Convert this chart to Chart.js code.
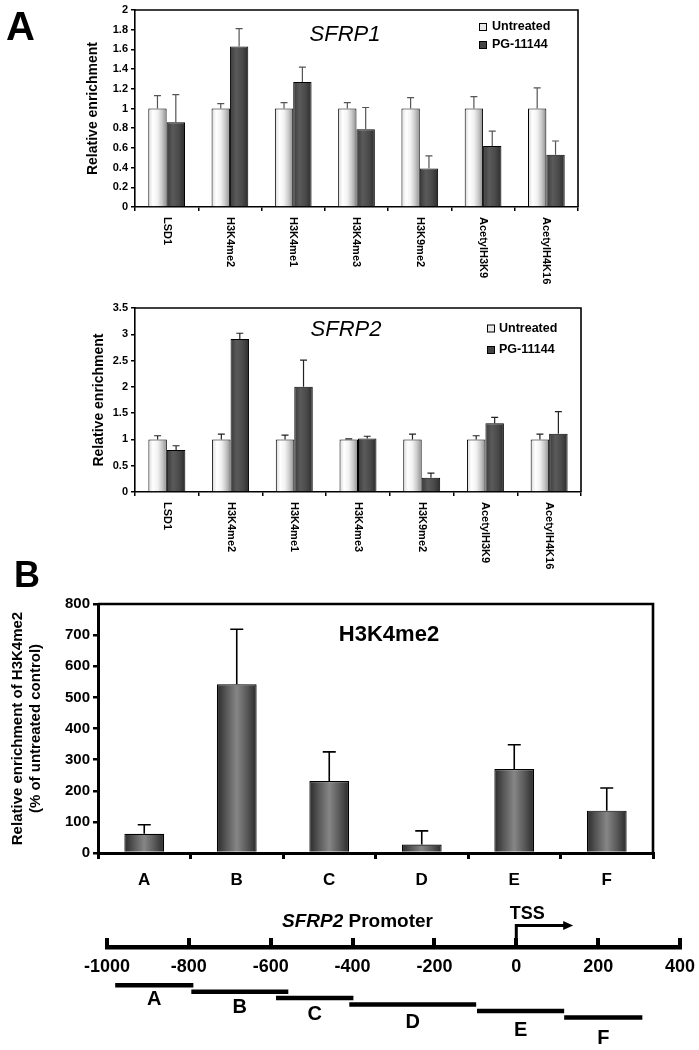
<!DOCTYPE html>
<html>
<head>
<meta charset="utf-8">
<script src="https://cdn.jsdelivr.net/npm/chart.js@4.4.1/dist/chart.umd.min.js"></script>
<style>
  html, body { margin: 0; padding: 0; background: #fff; }
  #page { position: relative; width: 699px; height: 1050px; overflow: hidden; font-family: "Liberation Sans", Arial, sans-serif; }
  canvas { position: absolute; left: 0; }
  .panel { position: absolute; font-weight: bold; line-height: 1; color: #000; }
</style>
</head>
<body>
<div id="page">
  <canvas id="sfrp1" width="699" height="295" style="top:0px"></canvas>
  <canvas id="sfrp2" width="699" height="275" style="top:295px"></canvas>
  <canvas id="h3k4" width="699" height="320" style="top:570px"></canvas>
  <canvas id="promoter" width="699" height="160" style="top:890px"></canvas>
  <div class="panel" style="left:6px; top:6px; font-size:40px">A</div>
  <div class="panel" style="left:14px; top:557px; font-size:36px">B</div>
</div>
<script>
const FONT = '"Liberation Sans", Arial, sans-serif';
Chart.defaults.font.family = FONT;
Chart.defaults.color = '#000';

// panel A data
const categories = ['LSD1', 'H3K4me2', 'H3K4me1', 'H3K4me3', 'H3K9me2', 'AcetylH3K9', 'AcetylH4K16'];
const seriesNames = ['Untreated', 'PG-11144'];

const sfrp1Untreated = [1, 1, 1, 1, 1, 1, 1];
const sfrp1UntreatedErr = [0.13, 0.05, 0.06, 0.06, 0.11, 0.12, 0.21];
const sfrp1Treated = [0.86, 1.63, 1.27, 0.79, 0.39, 0.62, 0.53];
const sfrp1TreatedErr = [0.28, 0.18, 0.15, 0.22, 0.13, 0.15, 0.14];
const sfrp1Ticks = [0, 0.2, 0.4, 0.6, 0.8, 1, 1.2, 1.4, 1.6, 1.8, 2];

const sfrp2Untreated = [1, 1, 1, 1, 1, 1, 1];
const sfrp2UntreatedErr = [0.07, 0.10, 0.08, 0.01, 0.10, 0.07, 0.10];
const sfrp2Treated = [0.80, 2.91, 2.00, 1.02, 0.27, 1.31, 1.11];
const sfrp2TreatedErr = [0.08, 0.11, 0.51, 0.04, 0.09, 0.11, 0.42];
const sfrp2Ticks = [0, 0.5, 1, 1.5, 2, 2.5, 3, 3.5];

// panel B data
const regions = ['A', 'B', 'C', 'D', 'E', 'F'];
const h3k4me2Values = [62, 542, 231, 27, 270, 136];
const h3k4me2Err = [29, 177, 94, 44, 78, 73];
const h3k4me2Ticks = [0, 100, 200, 300, 400, 500, 600, 700, 800];

// promoter map (bp relative to TSS)
const promoterTicks = [-1000, -800, -600, -400, -200, 0, 200, 400];
const ampliconStart = [-980, -794, -587, -408, -96, 117];
const ampliconEnd = [-789, -557, -398, -98, 117, 308];
const tssArrowEnd = 139;

// bar shading, done per bar once positions are known
const shadePlugin = {
  id: 'shade',
  beforeDatasetsDraw(chart) {
    const ctx = chart.ctx;
    chart.data.datasets.forEach((ds, di) => {
      if (!ds.shade) return;
      chart.getDatasetMeta(di).data.forEach(el => {
        const { x, width } = el.getProps(['x', 'width'], true);
        const g = ctx.createLinearGradient(x - width / 2, 0, x + width / 2, 0);
        ds.shade.forEach((c, k) => g.addColorStop(k / (ds.shade.length - 1), c));
        el.options.backgroundColor = g;
      });
    });
  }
};

const errorBarPlugin = {
  id: 'errorBars',
  afterDatasetsDraw(chart, args, opts) {
    const ctx = chart.ctx, ys = chart.scales.y;
    ctx.save();
    ctx.strokeStyle = opts.color;
    ctx.lineWidth = opts.width;
    chart.data.datasets.forEach((ds, di) => {
      if (!ds.errors) return;
      chart.getDatasetMeta(di).data.forEach((el, i) => {
        const top = ys.getPixelForValue(ds.data[i] + ds.errors[i]);
        ctx.beginPath();
        ctx.moveTo(el.x, el.y);
        ctx.lineTo(el.x, top);
        ctx.moveTo(el.x - opts.cap / 2, top);
        ctx.lineTo(el.x + opts.cap / 2, top);
        ctx.stroke();
      });
    });
    ctx.restore();
  }
};

// top and right edges of the plot box
const framePlugin = {
  id: 'frame',
  afterDatasetsDraw(chart, args, opts) {
    const { left, right, top, bottom } = chart.chartArea;
    const ctx = chart.ctx;
    ctx.save();
    ctx.strokeStyle = '#000';
    ctx.lineWidth = opts.width;
    ctx.beginPath();
    ctx.moveTo(left, top);
    ctx.lineTo(right, top);
    ctx.lineTo(right, bottom);
    ctx.stroke();
    ctx.restore();
  }
};

const decorPlugin = {
  id: 'decor',
  afterDraw(chart, args, opts) {
    const ctx = chart.ctx;
    ctx.save();
    ctx.fillStyle = '#000';
    if (opts.title) {
      ctx.font = opts.title.font;
      ctx.textAlign = 'center';
      ctx.textBaseline = 'middle';
      ctx.fillText(opts.title.text, opts.title.x, opts.title.y);
    }
    if (opts.legend) {
      const L = opts.legend;
      ctx.font = `bold 12.5px ${FONT}`;
      ctx.textAlign = 'left';
      ctx.textBaseline = 'middle';
      chart.data.datasets.forEach((ds, i) => {
        const cy = L.y + i * L.gap;
        ctx.fillStyle = ds.legendColor;
        ctx.fillRect(L.x, cy - L.box / 2, L.box, L.box);
        ctx.strokeStyle = '#000';
        ctx.lineWidth = 1;
        ctx.strokeRect(L.x + 0.5, cy - L.box / 2 + 0.5, L.box - 1, L.box - 1);
        ctx.fillStyle = '#000';
        ctx.fillText(ds.label, L.x + L.textGap, cy);
      });
    }
    if (opts.rotatedLabels) {
      const xs = chart.scales.x;
      ctx.font = `bold 11px ${FONT}`;
      ctx.textAlign = 'left';
      ctx.textBaseline = 'middle';
      chart.data.labels.forEach((lab, i) => {
        ctx.save();
        ctx.translate(xs.getPixelForValue(i), chart.chartArea.bottom + opts.rotatedLabels.gap);
        ctx.rotate(Math.PI / 2);
        ctx.fillText(lab, 0, 0);
        ctx.restore();
      });
    }
    ctx.restore();
  }
};

function enrichmentChart(id, gene, untreated, untreatedErr, treated, treatedErr, ticks, box) {
  return new Chart(document.getElementById(id), {
    type: 'bar',
    data: {
      labels: categories,
      datasets: [
        {
          label: seriesNames[0],
          data: untreated,
          errors: untreatedErr,
          shade: ['#d8d8d8', '#ffffff', '#f2f2f2', '#c8c8c8', '#8c8c8c'],
          legendColor: '#e8e8e8',
          backgroundColor: () => '#e0e0e0',
          borderColor: '#000',
          borderWidth: 1,
          categoryPercentage: 0.58,
          barPercentage: 1
        },
        {
          label: seriesNames[1],
          data: treated,
          errors: treatedErr,
          shade: ['#3a3a3a', '#5a5a5a', '#4a4a4a', '#2c2c2c'],
          legendColor: '#444',
          backgroundColor: () => '#444',
          borderColor: '#000',
          borderWidth: 1,
          categoryPercentage: 0.58,
          barPercentage: 1
        }
      ]
    },
    options: {
      responsive: false,
      animation: false,
      events: [],
      layout: { padding: box.pad },
      plugins: {
        legend: { display: false },
        tooltip: { enabled: false },
        errorBars: { color: box.errColor, width: 1.2, cap: 7 },
        frame: { width: 1.6 },
        decor: {
          title: { text: gene, font: `italic 22px ${FONT}`, x: box.titleX, y: box.titleY },
          legend: box.legend,
          rotatedLabels: { gap: 10 }
        }
      },
      scales: {
        x: {
          grid: { offset: true, drawOnChartArea: false, tickLength: 4, color: '#000', lineWidth: 1.5 },
          border: { color: '#000', width: 1.6 },
          ticks: { display: false },
          afterFit: s => { s.height = box.xh; }
        },
        y: {
          min: 0,
          max: ticks[ticks.length - 1],
          afterBuildTicks: s => { s.ticks = ticks.map(v => ({ value: v })); },
          grid: { drawOnChartArea: false, tickLength: 4, color: '#000', lineWidth: 1.5 },
          border: { color: '#000', width: 1.6 },
          ticks: { font: { size: 11, weight: 'bold' }, color: '#000', padding: 3, callback: v => String(v) },
          title: { display: true, text: 'Relative enrichment', font: { size: 14, weight: 'bold' }, color: '#000', padding: { top: 4, bottom: 4 } },
          afterFit: s => { s.width = box.yw; }
        }
      }
    },
    plugins: [shadePlugin, errorBarPlugin, framePlugin, decorPlugin]
  });
}

enrichmentChart('sfrp1', 'SFRP1', sfrp1Untreated, sfrp1UntreatedErr, sfrp1Treated, sfrp1TreatedErr, sfrp1Ticks, {
  pad: { left: 81, top: 10, right: 121, bottom: 0 },
  yw: 54, xh: 88, errColor: '#555',
  titleX: 345, titleY: 35,
  legend: { x: 479, y: 27, gap: 18, box: 8, textGap: 13 }
});

enrichmentChart('sfrp2', 'SFRP2', sfrp2Untreated, sfrp2UntreatedErr, sfrp2Treated, sfrp2TreatedErr, sfrp2Ticks, {
  pad: { left: 87, top: 13, right: 118, bottom: 0 },
  yw: 48, xh: 78, errColor: '#222',
  titleX: 346, titleY: 35,
  legend: { x: 487, y: 33.5, gap: 21.5, box: 8, textGap: 12 }
});

// panel B
new Chart(document.getElementById('h3k4'), {
  type: 'bar',
  data: {
    labels: regions,
    datasets: [{
      label: 'H3K4me2',
      data: h3k4me2Values,
      errors: h3k4me2Err,
      shade: ['#2a2a2a', '#5a5a5a', '#868686', '#5a5a5a', '#2a2a2a'],
      backgroundColor: () => '#555',
      borderColor: '#000',
      borderWidth: 1.2,
      categoryPercentage: 1,
      barPercentage: 0.43
    }]
  },
  options: {
    responsive: false,
    animation: false,
    events: [],
    layout: { padding: { left: 5, top: 34, right: 46, bottom: 0 } },
    plugins: {
      legend: { display: false },
      tooltip: { enabled: false },
      errorBars: { color: '#000', width: 1.6, cap: 13 },
      frame: { width: 2.6 },
      decor: { title: { text: 'H3K4me2', font: `bold 22px ${FONT}`, x: 389, y: 65 } }
    },
    scales: {
      x: {
        grid: { offset: true, drawOnChartArea: false, tickLength: 6, color: '#000', lineWidth: 3 },
        border: { color: '#000', width: 3 },
        ticks: { font: { size: 17, weight: 'bold' }, color: '#000', padding: 11 },
        afterFit: s => { s.height = 37; }
      },
      y: {
        min: 0,
        max: 800,
        afterBuildTicks: s => { s.ticks = h3k4me2Ticks.map(v => ({ value: v })); },
        grid: { drawOnChartArea: false, tickLength: 5, color: '#000', lineWidth: 2.5 },
        border: { color: '#000', width: 3 },
        ticks: { font: { size: 15, weight: 'bold' }, color: '#000', padding: 3, callback: v => String(v) },
        title: {
          display: true,
          text: ['Relative enrichment of H3K4me2', '(% of untreated control)'],
          font: { size: 15, weight: 'bold' },
          color: '#000',
          padding: { top: 4, bottom: 4 }
        },
        afterFit: s => { s.width = 93; }
      }
    }
  },
  plugins: [shadePlugin, errorBarPlugin, framePlugin, decorPlugin]
});

// promoter map with amplicons
const promoterPlugin = {
  id: 'promoterMap',
  afterDraw(chart) {
    const ctx = chart.ctx, xs = chart.scales.x, ys = chart.scales.y;
    const top = chart.chartArea.top;
    ctx.save();
    ctx.fillStyle = '#000';
    ctx.strokeStyle = '#000';
    ctx.textAlign = 'center';
    ctx.textBaseline = 'middle';
    ctx.font = `bold 18px ${FONT}`;
    promoterTicks.forEach(v => ctx.fillText(String(v), xs.getPixelForValue(v), top + 20));

    ctx.font = `bold 20px ${FONT}`;
    regions.forEach((r, i) => {
      const mid = (ampliconStart[i] + ampliconEnd[i]) / 2;
      ctx.fillText(r, xs.getPixelForValue(mid), ys.getPixelForValue(i) + 14 + 1.4 * i);
    });

    // TSS arrow
    const x0 = xs.getPixelForValue(0), x1 = xs.getPixelForValue(tssArrowEnd), ya = top - 21.5;
    ctx.lineWidth = 3;
    ctx.beginPath();
    ctx.moveTo(x0, top);
    ctx.lineTo(x0, ya);
    ctx.lineTo(x1 - 7, ya);
    ctx.stroke();
    ctx.beginPath();
    ctx.moveTo(x1, ya);
    ctx.lineTo(x1 - 10, ya - 4.5);
    ctx.lineTo(x1 - 10, ya + 4.5);
    ctx.closePath();
    ctx.fill();
    ctx.font = `bold 18px ${FONT}`;
    ctx.fillText('TSS', x0 + 11, top - 33);

    ctx.textAlign = 'left';
    ctx.font = `italic bold 19px ${FONT}`;
    let tx = 282;
    ctx.fillText('SFRP2', tx, top - 25);
    tx += ctx.measureText('SFRP2 ').width;
    ctx.font = `bold 19px ${FONT}`;
    ctx.fillText('Promoter', tx, top - 25);
    ctx.restore();
  }
};

new Chart(document.getElementById('promoter'), {
  type: 'scatter',
  data: {
    datasets: regions.map((r, i) => ({
      label: r,
      data: [{ x: ampliconStart[i], y: i }, { x: ampliconEnd[i], y: i }],
      showLine: true,
      borderColor: '#000',
      borderWidth: 4.5,
      borderCapStyle: 'butt',
      pointRadius: 0
    }))
  },
  options: {
    responsive: false,
    animation: false,
    events: [],
    layout: { padding: { left: 107, top: 48, right: 19, bottom: 0 } },
    plugins: { legend: { display: false }, tooltip: { enabled: false } },
    scales: {
      x: {
        type: 'linear',
        position: 'top',
        min: -1000,
        max: 400,
        afterBuildTicks: s => { s.ticks = promoterTicks.map(v => ({ value: v })); },
        grid: { drawOnChartArea: false, tickLength: 9, color: '#000', lineWidth: 4 },
        border: { color: '#000', width: 4.5 },
        ticks: { display: false },
        afterFit: s => { s.height = 9; }
      },
      y: {
        type: 'linear',
        display: false,
        reverse: true,
        min: -5.93,
        max: 10.06
      }
    }
  },
  plugins: [promoterPlugin]
});
</script>
</body>
</html>
